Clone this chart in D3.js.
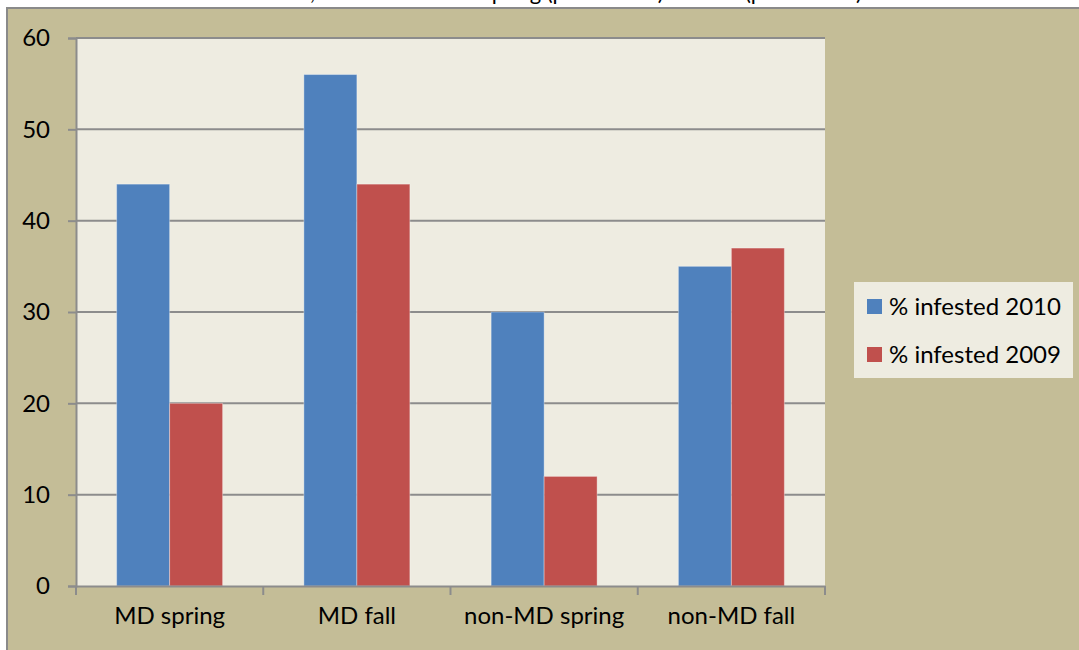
<!DOCTYPE html>
<html>
<head>
<meta charset="utf-8">
<script src="https://cdn.jsdelivr.net/npm/d3@7"></script>
<style>
  body { margin: 0; background: #fff; }
  svg { display: block; font-family: Lato, "Open Sans", sans-serif; }
</style>
</head>
<body>
<div id="chart"></div>
<script>
// chart data
var categories = ["MD spring", "MD fall", "non-MD spring", "non-MD fall"];
var seriesNames = ["% infested 2010", "% infested 2009"];
var values2010 = [44, 56, 30, 35];
var values2009 = [20, 44, 12, 37];
var yTicks = [0, 10, 20, 30, 40, 50, 60];
var titleText = "Infestation, MD vs. non-MD spring (p = 0.0001) and fall (p = 0.0001)";

const chartWidth = 1079;
const chartHeight = 650;
const colors = ["#4F81BD", "#C0504D"];
const labelSize = 24;

var plot = { left: 76, right: 825, top: 38, bottom: 586 };

var svg = d3.select("#chart").append("svg")
  .attr("width", chartWidth).attr("height", chartHeight);

// title, mostly cut off above the frame as in the source image
svg.append("text")
  .attr("x", 862).attr("y", 0)
  .attr("text-anchor", "end")
  .attr("font-size", 22)
  .attr("fill", "#000")
  .text(titleText);

// chart frame
svg.append("rect")
  .attr("x", 7).attr("y", 8)
  .attr("width", chartWidth + 10).attr("height", chartHeight + 10)
  .attr("fill", "#C4BD97")
  .attr("stroke", "#8a8a8a")
  .attr("stroke-width", 2);

var xScale = d3.scaleBand()
  .domain(categories)
  .range([plot.left, plot.right])
  .paddingInner(0.434)
  .paddingOuter(0.217);

// band for whole category, used for the tick marks
var catScale = d3.scaleBand()
  .domain(categories)
  .range([plot.left, plot.right]);

var xSub = d3.scaleBand()
  .domain(seriesNames)
  .range([0, xScale.bandwidth()]);

var yScale = d3.scaleLinear()
  .domain([0, 60])
  .range([plot.bottom, plot.top]);

// plot area
svg.append("rect")
  .attr("x", plot.left).attr("y", plot.top)
  .attr("width", plot.right - plot.left).attr("height", plot.bottom - plot.top)
  .attr("fill", "#EEECE1");

// gridlines
svg.append("g")
  .selectAll("line")
  .data(yTicks.filter(function(d) { return d > 0; }))
  .join("line")
  .attr("x1", plot.left).attr("x2", plot.right)
  .attr("y1", function(d) { return yScale(d); })
  .attr("y2", function(d) { return yScale(d); })
  .attr("stroke", "#8c8c8c")
  .attr("stroke-width", 2);

// bars
var rows = categories.map(function(c, i) {
  return [
    { cat: c, series: seriesNames[0], value: values2010[i], color: colors[0] },
    { cat: c, series: seriesNames[1], value: values2009[i], color: colors[1] }
  ];
});

svg.append("g")
  .selectAll("g")
  .data(rows)
  .join("g")
  .attr("transform", function(d) { return "translate(" + xScale(d[0].cat) + ",0)"; })
  .selectAll("rect")
  .data(function(d) { return d; })
  .join("rect")
  .attr("x", function(d) { return xSub(d.series); })
  .attr("y", function(d) { return yScale(d.value); })
  .attr("width", xSub.bandwidth())
  .attr("height", function(d) { return plot.bottom - yScale(d.value); })
  .attr("fill", function(d) { return d.color; })
  .attr("stroke", "rgba(255,255,255,0.35)")
  .attr("stroke-width", 1);

// y axis
var yAxis = d3.axisLeft(yScale)
  .tickValues(yTicks)
  .tickSize(8)
  .tickPadding(18)
  .tickFormat(d3.format("d"));

var yG = svg.append("g")
  .attr("transform", "translate(" + plot.left + ",0)")
  .call(yAxis);
yG.select(".domain").attr("stroke", "#8c8c8c").attr("stroke-width", 2);
yG.selectAll(".tick line").attr("stroke", "#8c8c8c").attr("stroke-width", 2);
yG.selectAll(".tick text")
  .attr("font-size", labelSize)
  .attr("font-family", "Lato, 'Open Sans', sans-serif")
  .attr("fill", "#000");

// x axis
var xAxis = d3.axisBottom(catScale).tickSize(0).tickPadding(21);
var xG = svg.append("g")
  .attr("transform", "translate(0," + plot.bottom + ")")
  .call(xAxis);
xG.select(".domain").attr("stroke", "#8c8c8c").attr("stroke-width", 2);
xG.selectAll(".tick text")
  .attr("font-size", labelSize)
  .attr("font-family", "Lato, 'Open Sans', sans-serif")
  .attr("fill", "#000");

// category boundary tick marks
var bounds = categories.map(function(c) { return catScale(c); }).concat([plot.right]);
xG.selectAll(".bound")
  .data(bounds)
  .join("line")
  .attr("class", "bound")
  .attr("x1", function(d) { return d; }).attr("x2", function(d) { return d; })
  .attr("y1", 0).attr("y2", 9)
  .attr("stroke", "#8c8c8c")
  .attr("stroke-width", 2);

// legend
var legend = svg.append("g").attr("transform", "translate(854,282)");
legend.append("rect")
  .attr("width", 219).attr("height", 96)
  .attr("fill", "#EEECE1");

var item = legend.selectAll(".item")
  .data(seriesNames)
  .join("g")
  .attr("class", "item")
  .attr("transform", function(d, i) { return "translate(0," + (i * 48) + ")"; });

item.append("rect")
  .attr("x", 13).attr("y", 17)
  .attr("width", 15).attr("height", 15)
  .attr("fill", function(d, i) { return colors[i]; });

item.append("text")
  .attr("x", 35).attr("y", 25)
  .attr("dy", "0.35em")
  .attr("font-size", labelSize)
  .attr("fill", "#000")
  .text(function(d) { return d; });
</script>
</body>
</html>
